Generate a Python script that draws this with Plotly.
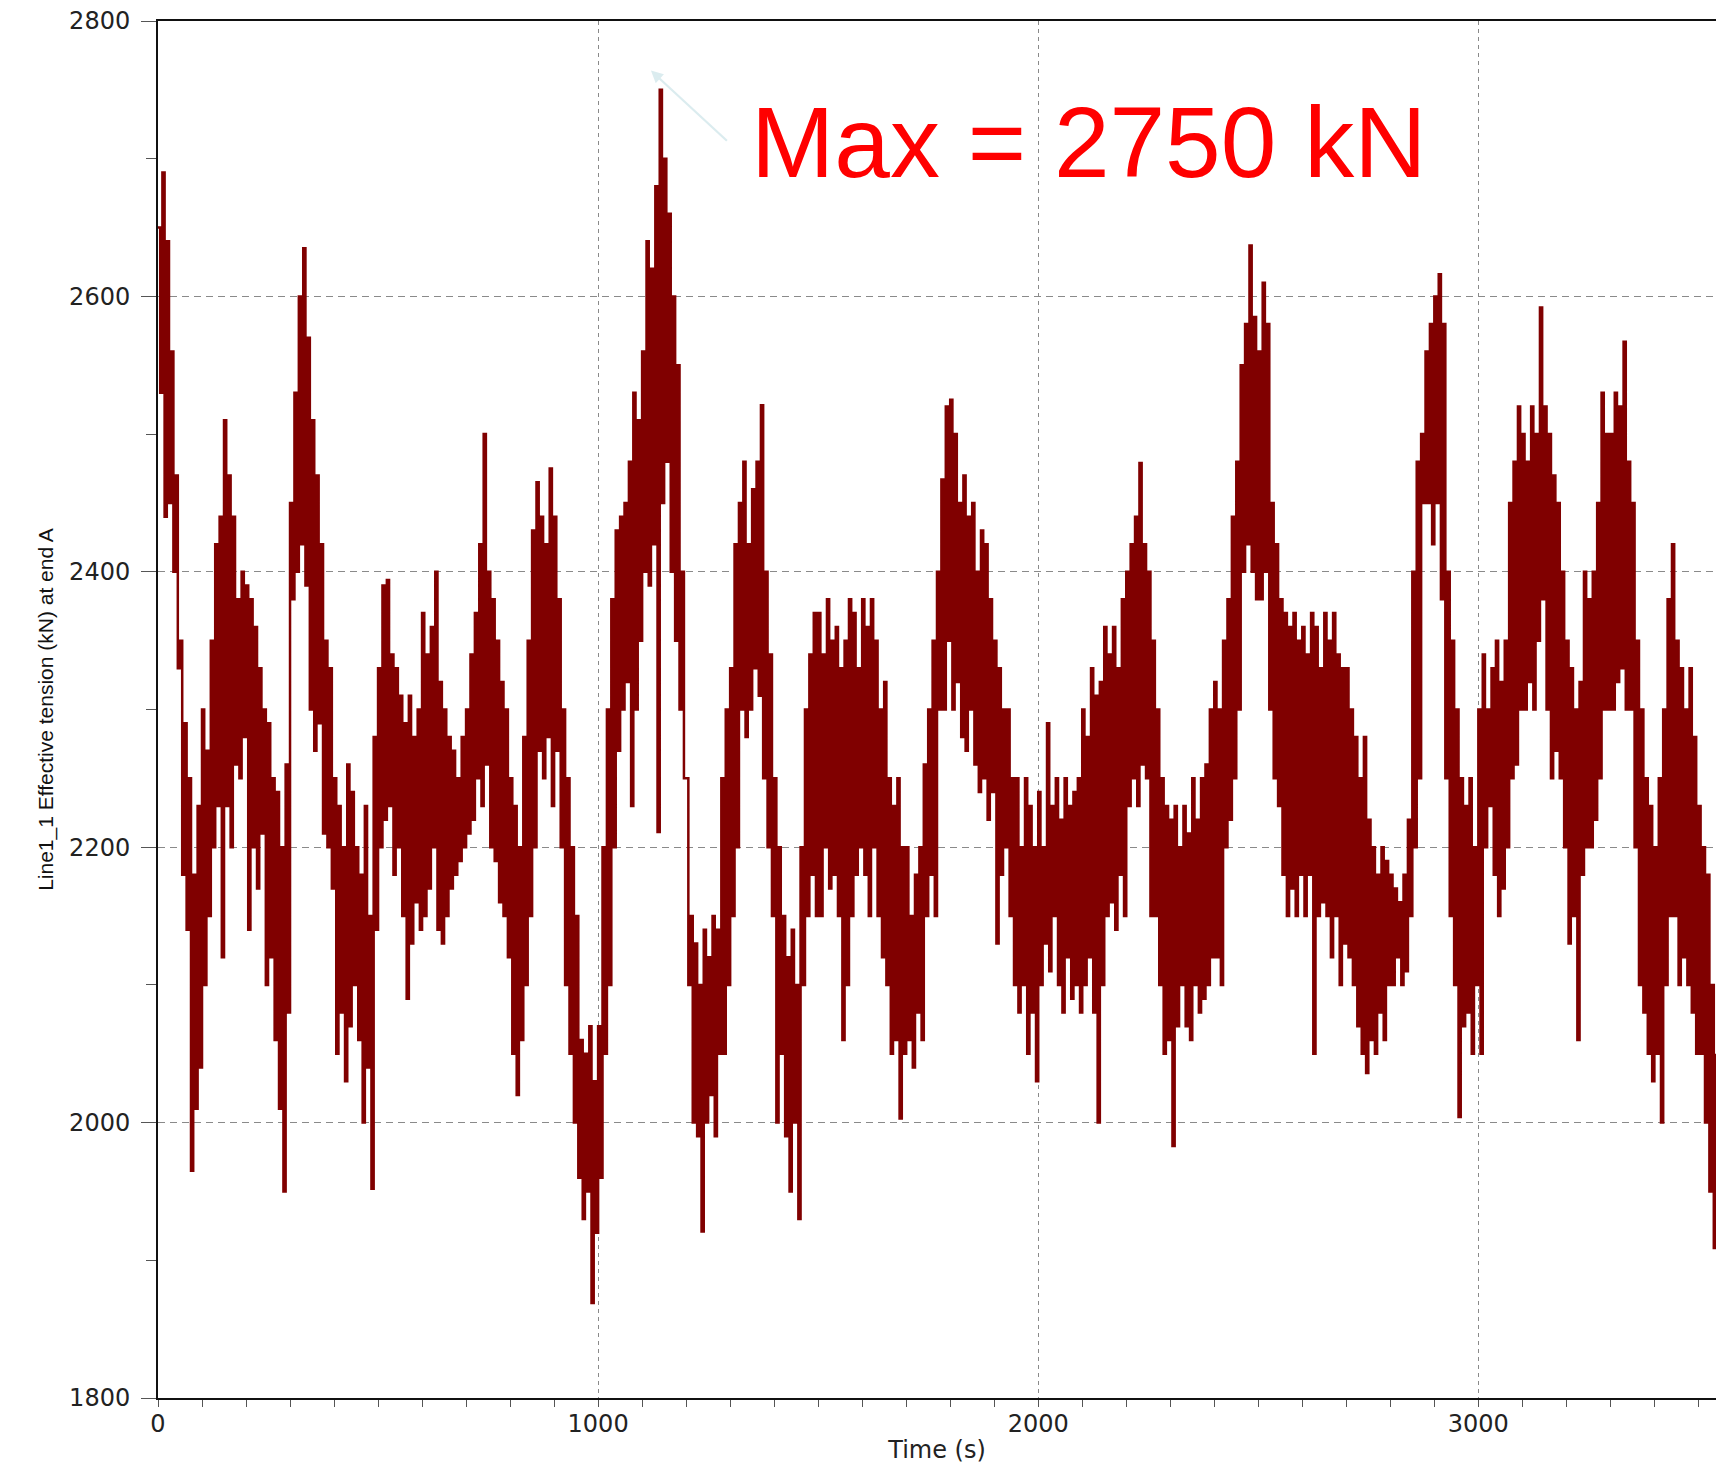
import plotly.graph_objects as go

# Effective tension at end A of Line1_1, sampled as alternating wave crests / troughs.
# Crests are at t = 0, 10, 20, ... s; troughs are half a step later.
SAMPLE_STEP_S = 10

crest_kN = [
    2650, 2690, 2640, 2560, 2470, 2350, 2290, 2250, 2180, 2230,
    2300, 2270, 2350, 2420, 2440, 2510, 2470, 2440, 2380, 2400,
    2390, 2380, 2360, 2330, 2300, 2290, 2250, 2240, 2200, 2260,
    2450, 2530, 2600, 2635, 2570, 2510, 2470, 2420, 2350, 2330,
    2250, 2230, 2200, 2260, 2240, 2200, 2180, 2230, 2150, 2280,
    2330, 2390, 2394, 2340, 2330, 2310, 2290, 2310, 2280, 2300,
    2370, 2340, 2360, 2400, 2320, 2300, 2280, 2270, 2250, 2280,
    2300, 2340, 2370, 2420, 2500, 2400, 2380, 2350, 2320, 2300,
    2250, 2230, 2200, 2280, 2350, 2430, 2465, 2440, 2420, 2475,
    2440, 2380, 2300, 2250, 2200, 2150, 2060, 2050, 2070, 2030,
    2070, 2200, 2300, 2380, 2430, 2440, 2450, 2480, 2530, 2510,
    2560, 2640, 2620, 2680, 2750, 2700, 2660, 2600, 2550, 2400,
    2250, 2150, 2130, 2100, 2140, 2120, 2150, 2140, 2250, 2300,
    2330, 2420, 2450, 2480, 2420, 2460, 2480, 2521, 2400, 2340,
    2250, 2200, 2150, 2120, 2140, 2100, 2200, 2300, 2340, 2370,
    2370, 2340, 2380, 2350, 2360, 2330, 2350, 2380, 2370, 2330,
    2380, 2360, 2380, 2350, 2300, 2320, 2250, 2230, 2250, 2200,
    2200, 2150, 2180, 2200, 2260, 2300, 2350, 2400, 2467, 2520,
    2525, 2500, 2450, 2470, 2440, 2450, 2400, 2430, 2420, 2380,
    2350, 2330, 2300, 2300, 2250, 2250, 2200, 2250, 2230, 2200,
    2240, 2200, 2290, 2230, 2250, 2220, 2250, 2230, 2240, 2250,
    2300, 2280, 2330, 2310, 2320, 2360, 2340, 2360, 2330, 2380,
    2400, 2420, 2440, 2479, 2420, 2400, 2350, 2300, 2250, 2230,
    2220, 2230, 2200, 2230, 2210, 2250, 2220, 2250, 2260, 2300,
    2320, 2300, 2350, 2380, 2440, 2480, 2550, 2580, 2637, 2585,
    2560, 2610, 2580, 2450, 2420, 2380, 2370, 2360, 2370, 2350,
    2360, 2340, 2370, 2360, 2330, 2370, 2350, 2370, 2340, 2330,
    2330, 2300, 2280, 2250, 2280, 2220, 2200, 2180, 2200, 2190,
    2180, 2170, 2160, 2180, 2220, 2400, 2480, 2500, 2560, 2580,
    2600, 2616, 2580, 2400, 2350, 2300, 2250, 2230, 2250, 2200,
    2300, 2340, 2300, 2330, 2350, 2320, 2350, 2450, 2480, 2520,
    2500, 2480, 2520, 2500, 2592, 2520, 2500, 2470, 2450, 2400,
    2350, 2330, 2300, 2320, 2400, 2380, 2400, 2450, 2530, 2500,
    2500, 2530, 2520, 2567, 2480, 2450, 2350, 2300, 2250, 2230,
    2200, 2250, 2300, 2380, 2420, 2350, 2330, 2300, 2330, 2280,
    2230, 2200, 2180, 2100, 2050,
]

trough_kN = [
    2530, 2440, 2450, 2400, 2330, 2180, 2140, 1965, 2010, 2040,
    2100, 2150, 2200, 2230, 2120, 2230, 2200, 2260, 2250, 2280,
    2140, 2200, 2170, 2210, 2100, 2120, 2060, 2010, 1950, 2080,
    2380, 2400, 2420, 2390, 2300, 2270, 2290, 2210, 2200, 2170,
    2050, 2080, 2030, 2070, 2100, 2060, 2000, 2040, 1952, 2140,
    2200, 2220, 2230, 2180, 2200, 2150, 2090, 2130, 2160, 2140,
    2150, 2170, 2200, 2140, 2130, 2150, 2170, 2180, 2190, 2200,
    2210, 2220, 2250, 2230, 2260, 2200, 2190, 2160, 2150, 2120,
    2050, 2020, 2060, 2100, 2150, 2200, 2270, 2250, 2280, 2230,
    2270, 2200, 2100, 2050, 2000, 1960, 1930, 1950, 1869, 1920,
    1960, 2050, 2100, 2200, 2270, 2300, 2320, 2230, 2300, 2350,
    2400, 2390, 2420, 2211, 2450, 2480, 2400, 2350, 2300, 2250,
    2100, 2000, 1990, 1921, 2000, 2020, 1990, 2050, 2050, 2100,
    2150, 2200, 2300, 2280, 2300, 2330, 2310, 2250, 2200, 2150,
    2000, 2050, 1990, 1950, 2000, 1930, 2100, 2150, 2180, 2150,
    2150, 2200, 2170, 2180, 2150, 2060, 2100, 2150, 2180, 2200,
    2180, 2150, 2200, 2150, 2120, 2100, 2050, 2060, 2003, 2050,
    2060, 2040, 2080, 2060, 2150, 2180, 2150, 2300, 2300, 2350,
    2300, 2320, 2280, 2270, 2300, 2260, 2240, 2250, 2220, 2240,
    2130, 2180, 2200, 2150, 2100, 2080, 2100, 2050, 2080, 2030,
    2100, 2130, 2110, 2150, 2100, 2080, 2120, 2090, 2100, 2080,
    2100, 2120, 2080, 2000, 2100, 2150, 2160, 2140, 2180, 2150,
    2230, 2250, 2230, 2260, 2250, 2150, 2150, 2100, 2050, 2060,
    1983, 2070, 2100, 2070, 2060, 2100, 2080, 2090, 2100, 2120,
    2120, 2100, 2200, 2220, 2250, 2300, 2400, 2420, 2400, 2380,
    2380, 2400, 2300, 2250, 2230, 2180, 2150, 2170, 2150, 2180,
    2150, 2180, 2050, 2150, 2160, 2150, 2120, 2150, 2100, 2130,
    2120, 2100, 2070, 2050, 2036, 2060, 2050, 2080, 2060, 2100,
    2100, 2120, 2100, 2110, 2150, 2200, 2250, 2450, 2450, 2420,
    2450, 2380, 2250, 2150, 2100, 2004, 2070, 2080, 2050, 2100,
    2050, 2200, 2230, 2180, 2150, 2170, 2200, 2250, 2260, 2300,
    2300, 2320, 2300, 2350, 2380, 2300, 2250, 2270, 2250, 2200,
    2130, 2150, 2060, 2180, 2200, 2200, 2220, 2250, 2300, 2300,
    2300, 2320, 2330, 2300, 2300, 2200, 2100, 2080, 2050, 2030,
    2050, 2000, 2100, 2150, 2150, 2100, 2120, 2100, 2080, 2050,
    2050, 2000, 1950, 1909,
]

x_ticks = [0, 1000, 2000, 3000]
y_ticks = [1800, 2000, 2200, 2400, 2600, 2800]

max_label = "Max = 2750 kN"
max_tension = max(crest_kN)
max_time = crest_kN.index(max_tension) * SAMPLE_STEP_S

# Interleave crests and troughs into one time history.
time_s, tension_kN = [], []
for i, crest in enumerate(crest_kN):
    time_s.append(i * SAMPLE_STEP_S)
    tension_kN.append(crest)
    if i < len(trough_kN):
        time_s.append(i * SAMPLE_STEP_S + SAMPLE_STEP_S / 2)
        tension_kN.append(trough_kN[i])

fig = go.Figure()
fig.add_trace(go.Scatter(
    x=time_s, y=tension_kN, mode="lines",
    line=dict(color="#800000", width=2.5, shape="hv"),
    hoverinfo="skip", showlegend=False,
))

tick_font = dict(family="DejaVu Sans", size=24, color="#222222")

fig.update_layout(
    width=1716, height=1464, autosize=False,
    margin=dict(l=158, r=0, t=21, b=66, pad=0),
    paper_bgcolor="white", plot_bgcolor="white",
    showlegend=False,
    xaxis=dict(
        range=[0, 3540], tickvals=x_ticks, ticktext=[str(v) for v in x_ticks],
        showline=True, linecolor="#111111", linewidth=2, mirror=True,
        ticks="outside", ticklen=7, tickwidth=1, tickcolor="#555555",
        minor=dict(dtick=100, tick0=0, ticks="outside", ticklen=7, tickwidth=1,
                   tickcolor="#555555", showgrid=False),
        showgrid=True, gridcolor="#8a8a8a", gridwidth=1, griddash="4px,4px",
        zeroline=False, tickfont=tick_font, ticklabelstandoff=-4,
        title=dict(text="Time (s)", font=tick_font, standoff=10),
    ),
    yaxis=dict(
        range=[1800, 2800], tickvals=y_ticks, ticktext=[str(v) for v in y_ticks],
        showline=True, linecolor="#111111", linewidth=2, mirror=False,
        ticks="outside", ticklen=15, tickwidth=1, tickcolor="#555555",
        minor=dict(dtick=100, tick0=1800, ticks="outside", ticklen=10, tickwidth=1,
                   tickcolor="#555555", showgrid=False),
        showgrid=True, gridcolor="#8a8a8a", gridwidth=1, griddash="7px,5px",
        zeroline=False, tickfont=tick_font, ticklabelstandoff=6,
        title=dict(text="Line1_1 Effective tension (kN) at end A",
                   font=dict(family="Liberation Sans, Arial", size=21, color="#111111"),
                   standoff=10),
    ),
)

# Pointer to the peak and the peak label
fig.add_annotation(
    x=max_time - 20, y=max_tension + 14, ax=1296, ay=2712,
    xref="x", yref="y", axref="x", ayref="y",
    text="", showarrow=True, arrowhead=2, arrowsize=1.1, arrowwidth=2.2,
    arrowcolor="#dbecef",
)
fig.add_annotation(
    x=1342, y=2712, xref="x", yref="y", xanchor="left", yanchor="middle",
    text=max_label, showarrow=False,
    font=dict(family="Liberation Sans, Arial", size=100, color="#ff0000"),
)

fig.write_html("out.html", config=dict(displayModeBar=False))
